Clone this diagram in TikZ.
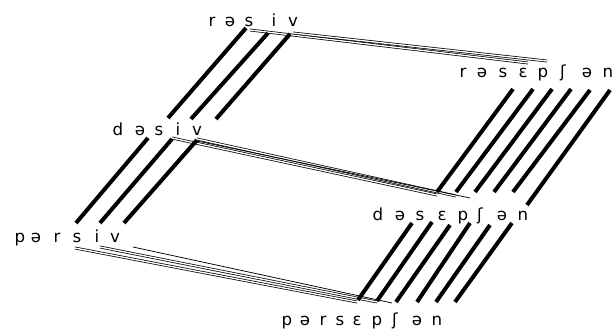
\documentclass[tikz,border=0pt]{standalone}
\usepackage{fontspec}
\setmainfont{DejaVu Sans}
\newcommand{\FS}{\fontsize{12.5}{15}\selectfont}

\begin{document}
\begin{tikzpicture}[x=0.75pt,y=-0.75pt]
\tikzstyle{sound}=[inner sep=0pt,anchor=base,font=\FS]
\tikzstyle{bar}=[black,line width=3pt]
\tikzstyle{link}=[black,line width=0.55pt,double,double distance=1pt]
\tikzstyle{hair}=[black,line width=0.55pt]

\useasboundingbox (0,0) rectangle (616,335);

% words, one node per sound
\foreach \c/\x [count=\i] in {r/212,ə/230,s/249,i/274,v/293}
  \node[sound] (rsv-\i) at (\x,27) {\c};
\foreach \c/\x [count=\i] in {r/463,ə/482,s/503,ɛ/523,p/543,ʃ/563,ə/587,n/608}
  \node[sound] (rsp-\i) at (\x,77) {\c};
\foreach \c/\x [count=\i] in {d/118,ə/140,s/159,i/178,v/197}
  \node[sound] (dsv-\i) at (\x,135) {\c};
\foreach \c/\x [count=\i] in {d/378,ə/400,s/420,ɛ/442,p/463,ʃ/480,ə/502,n/523}
  \node[sound] (dsp-\i) at (\x,220) {\c};
\foreach \c/\x [count=\i] in {p/20,ə/36,r/57,s/77,i/97,v/115}
  \node[sound] (psv-\i) at (\x,242) {\c};
\foreach \c/\x [count=\i] in {p/287,ə/305,r/323,s/340,ɛ/357,p/377,ʃ/395,ə/417,n/437}
  \node[sound] (psp-\i) at (\x,325) {\c};

% thin links between the two words of a row
\draw[link] ([shift={(1,3)}]rsv-3.base) -- ([shift={(5,-14)}]rsp-4.base);
\draw[link] ([shift={(0,6)}]rsv-5.base) -- ([shift={(4,-16)}]rsp-5.base);
\draw[link] ([shift={(-6,3)}]dsv-4.base) -- ([shift={(17,-25)}]dsp-3.base);
\draw[link] ([shift={(0,4)}]dsv-5.base) -- ([shift={(14,-24)}]dsp-4.base);
\draw[hair] ([shift={(0,6)}]dsv-5.base) -- ([shift={(7,-22)}]dsp-5.base);
\draw[link] ([shift={(-2,6)}]psv-4.base) -- ([shift={(17,-23)}]psp-4.base);
\draw[link] ([shift={(3,5)}]psv-5.base) -- ([shift={(20,-23)}]psp-5.base);
\draw[hair] ([shift={(18,5)}]psv-6.base) -- ([shift={(15,-22)}]psp-6.base);

% thick bars between the layers
\foreach \i/\a/\b/\c/\d in {3/-3/1/9/-17,4/-6/6/13/-16,5/-3/7/19/-16}
  \draw[bar] ([shift={(\a,\b)}]rsv-\i.base) -- ([shift={(\c,\d)}]dsv-\i.base);
\foreach \i/\a/\b/\j/\c/\d in {3/-11/3/4/-1/-19,4/-6/4/5/3/-19,5/0/5/6/9/-19}
  \draw[bar] ([shift={(\a,\b)}]dsv-\i.base) -- ([shift={(\c,\d)}]psv-\j.base);
\foreach \i/\a/\b/\c/\d in {3/10/12/17/-28,4/10/12/14/-28,5/9/12/12/-28,6/8/12/14/-28,7/3/13/11/-28,8/2/13/4/-15}
  \draw[bar] ([shift={(\a,\b)}]rsp-\i.base) -- ([shift={(\c,\d)}]dsp-\i.base);
\foreach \i/\a/\b/\j/\c/\d in {3/-8/3/4/18/-25,4/-10/2/5/20/-24,5/-13/5/6/19/-23,6/-10/3/7/22/-23,7/-12/5/8/19/-23,8/-11/3/9/18/-23}
  \draw[bar] ([shift={(\a,\b)}]dsp-\i.base) -- ([shift={(\c,\d)}]psp-\j.base);
\end{tikzpicture}
\end{document}
